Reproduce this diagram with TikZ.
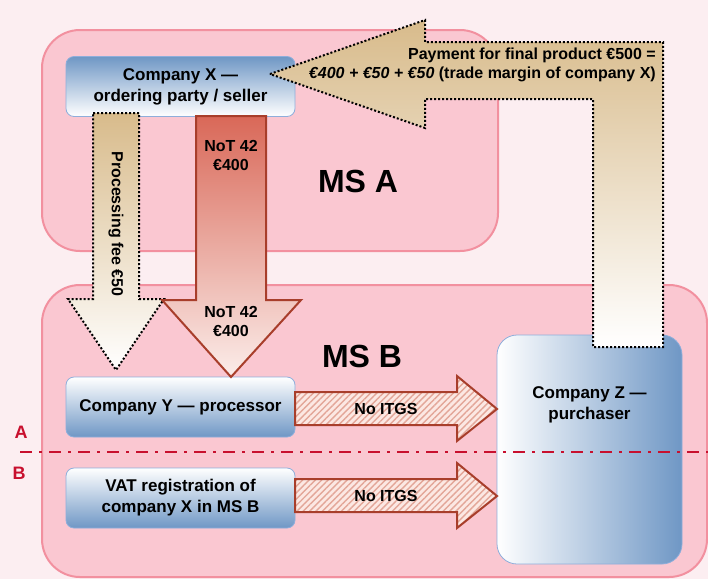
\documentclass[tikz,border=0pt]{standalone}
\usepackage{fontspec}
\setmainfont{Liberation Sans}
\usetikzlibrary{patterns.meta}
\definecolor{bg}{HTML}{FCEEF1}
\definecolor{msfill}{HTML}{FAC7D1}
\definecolor{msline}{HTML}{F2909F}
\definecolor{boxblue}{HTML}{6F97C5}
\definecolor{boxline}{HTML}{8EAEDB}
\definecolor{tanc}{HTML}{D8BB8B}
\definecolor{notred}{HTML}{D96858}
\definecolor{notlight}{HTML}{FBEDEA}
\definecolor{darkred}{HTML}{A83E2B}
\definecolor{hatchbg}{HTML}{FCE8E3}
\definecolor{hatchline}{HTML}{E3A698}
\definecolor{crimson}{HTML}{C8102E}
\begin{document}
\begin{tikzpicture}[x=1pt,y=-1pt,
  msbox/.style={draw=msline, line width=2pt, fill=msfill, rounded corners=38pt},
  cbox/.style={draw=boxline, line width=0.8pt, rounded corners=8pt, minimum width=229pt, minimum height=60pt, inner sep=0pt, align=center, font=\bfseries\fontsize{17}{21}\selectfont},
  dotarrow/.style={draw=black, line width=2pt, dash pattern=on 2pt off 2pt, top color=tanc, bottom color=white},
  redarrow/.style={draw=darkred, line width=2pt, top color=notred, bottom color=notlight},
  hatcharrow/.style={draw=darkred, line width=2pt, preaction={fill=hatchbg}, pattern={Lines[angle=45,distance=4.5pt,line width=1.4pt]}, pattern color=hatchline},
  lbl/.style={font=\bfseries\fontsize{16}{19}\selectfont, align=center, inner sep=0pt},
  mslbl/.style={font=\bfseries\fontsize{32}{36}\selectfont, inner sep=0pt},
  ablbl/.style={font=\bfseries\fontsize{18}{20}\selectfont, text=crimson, inner sep=0pt}
]
\fill[bg] (0,0) rectangle (708,579);
\useasboundingbox (0,0) rectangle (708,579);

% member state areas
\path[msbox] (42,30) rectangle (498,251);
\path[msbox] (42,285) rectangle (707,577);
\node[mslbl] (msA) at (358,181) {MS A};
\node[mslbl] (msB) at (362,356) {MS B};

% company boxes
\node[cbox, top color=boxblue, bottom color=white] (X) at (180.5,86.5) {Company X —\\ordering party / seller};
\node[cbox, top color=white, bottom color=boxblue] (Y) at (180.5,407) {Company Y — processor};
\node[cbox, top color=white, bottom color=boxblue] (V) at (180.5,498) {VAT registration of\\company X in MS B};
\node[draw=boxline, line width=0.8pt, rounded corners=20pt, minimum width=185pt, minimum height=229pt, left color=white, right color=boxblue] (Z) at (589.5,449.5) {};
\node[font=\bfseries\fontsize{17}{21}\selectfont, align=center, inner sep=0pt] (Zt) at (589.5,405) {Company Z —\\purchaser};

% processing fee arrow
\path[dotarrow] (93,113) -- (139,113) -- (139,299) -- (164,299) -- (116,370) -- (68,299) -- (93,299) -- cycle;
\node[lbl, rotate=-90] (fee) at (116,224) {Processing fee €50};

% NoT 42 arrow
\path[redarrow] (196,116) -- (266,116) -- (266,300) -- (301,300) -- (231,377) -- (162,300) -- (196,300) -- cycle;
\node[lbl] (not1) at (231,155) {NoT 42\\€400};
\node[lbl] (not2) at (231,321) {NoT 42\\€400};

% payment arrow
\path[dotarrow] (270,74) -- (425,20) -- (425,42) -- (663,42) -- (663,347) -- (593,347) -- (593,99) -- (425,99) -- (425,128) -- cycle;
\node[font=\bfseries\fontsize{16}{18.5}\selectfont, align=right, inner sep=0pt, anchor=east] (pay) at (656,65)
  {Payment for final product €500 =\\\textit{€400 + €50 + €50} (trade margin of company X)};

% no ITGS arrows
\path[hatcharrow] (295,392) -- (457,392) -- (457,376) -- (497,409) -- (457,441) -- (457,425) -- (295,425) -- cycle;
\path[hatcharrow] (295,479) -- (457,479) -- (457,463) -- (497,496) -- (457,528) -- (457,512) -- (295,512) -- cycle;
\node[lbl] (itgs1) at (386,409) {No ITGS};
\node[lbl] (itgs2) at (386,496) {No ITGS};

% A / B separator
\coordinate (dl) at (20,452);
\coordinate (dr) at (708,452);
\draw[crimson, line width=2pt, dash pattern=on 12pt off 7pt on 3pt off 7pt] (dl) -- (dr);
\node[ablbl] (la) at (21,432) {A};
\node[ablbl] (lb) at (19,473) {B};
\end{tikzpicture}
\end{document}
